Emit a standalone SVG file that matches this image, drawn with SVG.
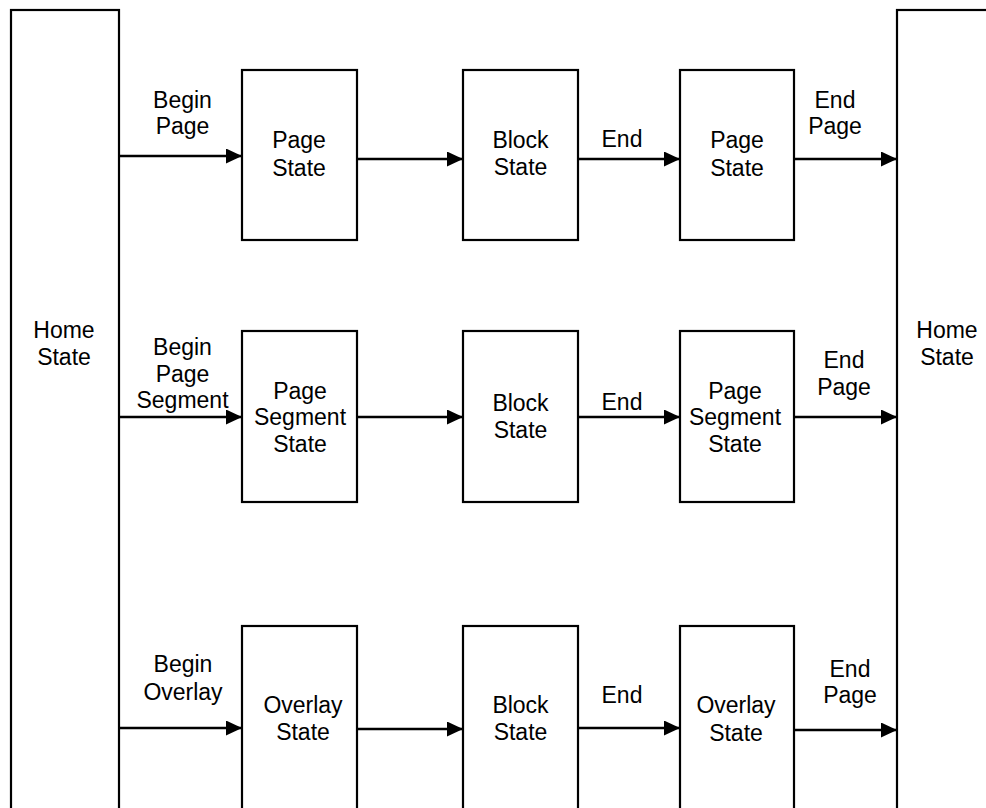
<svg xmlns="http://www.w3.org/2000/svg" width="986" height="808" viewBox="0 0 986 808">
<style>
.box{fill:#fff;stroke:#000;stroke-width:2.2}
.t{font-family:"Liberation Sans",Arial,sans-serif;font-size:23px;fill:#000;text-anchor:middle}
.c{stroke:#000;stroke-width:2.5;fill:none;marker-end:url(#ah)}
</style>
<defs>
<marker id="ah" markerUnits="userSpaceOnUse" markerWidth="17" markerHeight="16" refX="16" refY="7.5" orient="auto">
<path d="M0,0 L16,7.5 L0,15 z" fill="#000"/>
</marker>
</defs>
<rect width="986" height="808" fill="#fff"/>
<g id="home-left">
<rect class="box" x="11" y="10" width="108" height="820"/>
<text class="t" x="64" y="338">Home</text>
<text class="t" x="64" y="365">State</text>
</g>
<g id="home-right">
<rect class="box" x="897" y="10" width="120" height="820"/>
<text class="t" x="947" y="338">Home</text>
<text class="t" x="947" y="365">State</text>
</g>
<g id="page-state-1">
<rect class="box" x="242" y="70" width="115" height="170"/>
<text class="t" x="299" y="148">Page</text>
<text class="t" x="299" y="176">State</text>
</g>
<g id="block-state-1">
<rect class="box" x="463" y="70" width="115" height="170"/>
<text class="t" x="520.5" y="148">Block</text>
<text class="t" x="520.5" y="175">State</text>
</g>
<g id="page-state-2">
<rect class="box" x="680" y="70" width="114" height="170"/>
<text class="t" x="737" y="148">Page</text>
<text class="t" x="737" y="176">State</text>
</g>
<g id="page-segment-state-1">
<rect class="box" x="242" y="331" width="115" height="171"/>
<text class="t" x="300" y="399">Page</text>
<text class="t" x="300" y="425">Segment</text>
<text class="t" x="300" y="452">State</text>
</g>
<g id="block-state-2">
<rect class="box" x="463" y="331" width="115" height="171"/>
<text class="t" x="520.5" y="411">Block</text>
<text class="t" x="520.5" y="438">State</text>
</g>
<g id="page-segment-state-2">
<rect class="box" x="680" y="331" width="114" height="171"/>
<text class="t" x="735" y="399">Page</text>
<text class="t" x="735" y="425">Segment</text>
<text class="t" x="735" y="452">State</text>
</g>
<g id="overlay-state-1">
<rect class="box" x="242" y="626" width="115" height="220"/>
<text class="t" x="303" y="713">Overlay</text>
<text class="t" x="303" y="740">State</text>
</g>
<g id="block-state-3">
<rect class="box" x="463" y="626" width="115" height="220"/>
<text class="t" x="520.5" y="713">Block</text>
<text class="t" x="520.5" y="740">State</text>
</g>
<g id="overlay-state-2">
<rect class="box" x="680" y="626" width="114" height="220"/>
<text class="t" x="736" y="713">Overlay</text>
<text class="t" x="736" y="741">State</text>
</g>
<g id="connectors">
<line class="c" x1="119" y1="156" x2="242" y2="156"/>
<line class="c" x1="357" y1="159" x2="463" y2="159"/>
<line class="c" x1="578" y1="159" x2="680" y2="159"/>
<line class="c" x1="794" y1="159" x2="897" y2="159"/>
<line class="c" x1="119" y1="417" x2="242" y2="417"/>
<line class="c" x1="357" y1="417" x2="463" y2="417"/>
<line class="c" x1="578" y1="417" x2="680" y2="417"/>
<line class="c" x1="794" y1="417" x2="897" y2="417"/>
<line class="c" x1="119" y1="728" x2="242" y2="728"/>
<line class="c" x1="357" y1="729" x2="463" y2="729"/>
<line class="c" x1="578" y1="728" x2="680" y2="728"/>
<line class="c" x1="794" y1="730" x2="897" y2="730"/>
<g id="labels">
<text class="t" x="182.5" y="108">Begin</text>
<text class="t" x="182.5" y="134">Page</text>
<text class="t" x="622" y="147">End</text>
<text class="t" x="835" y="108">End</text>
<text class="t" x="835" y="134">Page</text>
<text class="t" x="182.5" y="355">Begin</text>
<text class="t" x="182.5" y="382">Page</text>
<text class="t" x="182.5" y="408">Segment</text>
<text class="t" x="622" y="410">End</text>
<text class="t" x="844" y="368">End</text>
<text class="t" x="844" y="395">Page</text>
<text class="t" x="183" y="672">Begin</text>
<text class="t" x="183" y="700">Overlay</text>
<text class="t" x="622" y="703">End</text>
<text class="t" x="850" y="677">End</text>
<text class="t" x="850" y="703">Page</text>
</g>
</g>
</svg>
